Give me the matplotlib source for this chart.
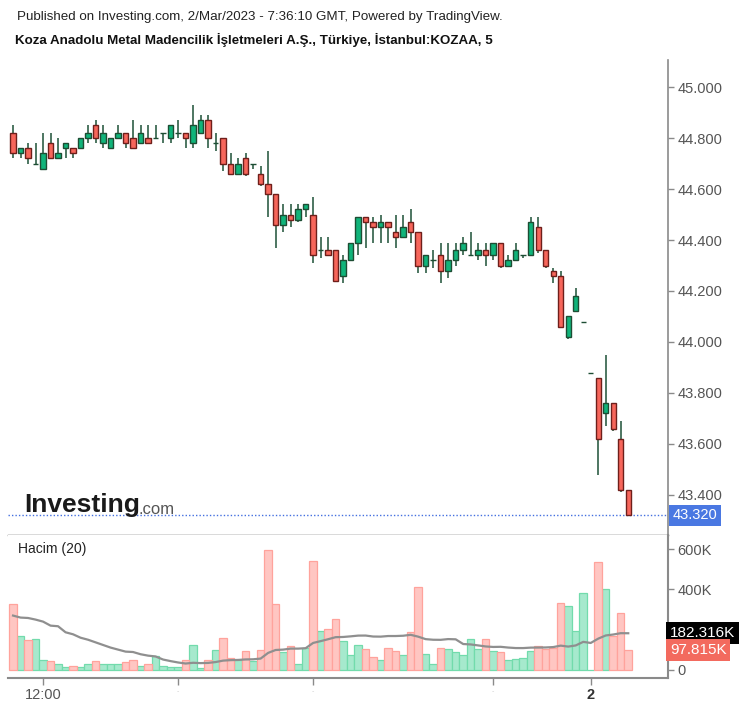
import numpy as np
import pandas as pd
import matplotlib
matplotlib.use("Agg")
import matplotlib.pyplot as plt
import matplotlib.transforms as mtransforms

plt.rcParams['font.family'] = ['Liberation Sans', 'DejaVu Sans']

# 5-minute candles, KOZAA (open, high, low, close)
opens = [44.82, 44.74, 44.76, 44.70, 44.68, 44.78, 44.72, 44.76, 44.76, 44.76,
         44.80, 44.85, 44.78, 44.76, 44.80, 44.82, 44.80, 44.78, 44.80, 44.80,
         44.82, 44.80, 44.82, 44.82, 44.78, 44.82, 44.87, 44.78, 44.80, 44.70,
         44.66, 44.72, 44.70, 44.66, 44.62, 44.58, 44.46, 44.50, 44.48, 44.52,
         44.50, 44.36, 44.36, 44.36, 44.26, 44.32, 44.39, 44.49, 44.47, 44.45,
         44.47, 44.43, 44.41, 44.47, 44.43, 44.30, 44.32, 44.34, 44.28, 44.32,
         44.36, 44.34, 44.34, 44.36, 44.34, 44.39, 44.30, 44.32, 44.34, 44.34,
         44.45, 44.36, 44.28, 44.26, 44.02, 44.12, 44.08, 43.88, 43.86, 43.72,
         43.76, 43.62, 43.42]
highs = [44.85, 44.76, 44.78, 44.78, 44.82, 44.82, 44.80, 44.78, 44.76, 44.80,
         44.85, 44.87, 44.85, 44.80, 44.85, 44.82, 44.87, 44.85, 44.85, 44.85,
         44.82, 44.85, 44.87, 44.82, 44.93, 44.89, 44.89, 44.82, 44.80, 44.74,
         44.72, 44.74, 44.70, 44.69, 44.75, 44.58, 44.54, 44.54, 44.54, 44.54,
         44.57, 44.41, 44.41, 44.36, 44.34, 44.39, 44.49, 44.49, 44.49, 44.50,
         44.47, 44.50, 44.50, 44.52, 44.43, 44.34, 44.36, 44.39, 44.39, 44.39,
         44.41, 44.43, 44.39, 44.39, 44.39, 44.39, 44.34, 44.39, 44.34, 44.49,
         44.49, 44.36, 44.29, 44.28, 44.10, 44.21, 44.08, 43.88, 43.86, 43.95,
         43.76, 43.69, 43.42]
lows = [44.72, 44.72, 44.70, 44.70, 44.68, 44.72, 44.72, 44.72, 44.72, 44.76,
        44.78, 44.78, 44.76, 44.76, 44.80, 44.76, 44.76, 44.78, 44.78, 44.80,
        44.78, 44.78, 44.80, 44.76, 44.76, 44.82, 44.76, 44.75, 44.67, 44.66,
        44.66, 44.65, 44.68, 44.61, 44.49, 44.37, 44.43, 44.45, 44.47, 44.49,
        44.31, 44.33, 44.34, 44.24, 44.23, 44.32, 44.34, 44.37, 44.39, 44.39,
        44.39, 44.37, 44.41, 44.39, 44.27, 44.27, 44.29, 44.23, 44.25, 44.30,
        44.34, 44.34, 44.32, 44.30, 44.32, 44.29, 44.30, 44.32, 44.33, 44.34,
        44.35, 44.29, 44.23, 44.06, 44.01, 44.12, 44.08, 43.88, 43.48, 43.67,
        43.65, 43.41, 43.32]
closes = [44.74, 44.76, 44.72, 44.70, 44.74, 44.72, 44.74, 44.78, 44.74, 44.80,
          44.82, 44.80, 44.82, 44.80, 44.82, 44.78, 44.76, 44.82, 44.78, 44.80,
          44.82, 44.85, 44.82, 44.80, 44.85, 44.87, 44.80, 44.78, 44.70, 44.66,
          44.70, 44.66, 44.70, 44.62, 44.58, 44.46, 44.50, 44.48, 44.52, 44.54,
          44.34, 44.36, 44.34, 44.24, 44.32, 44.39, 44.49, 44.47, 44.45, 44.47,
          44.45, 44.41, 44.45, 44.43, 44.30, 44.34, 44.32, 44.28, 44.32, 44.36,
          44.39, 44.34, 44.36, 44.34, 44.39, 44.30, 44.32, 44.36, 44.34, 44.47,
          44.36, 44.30, 44.26, 44.06, 44.10, 44.18, 44.08, 43.88, 43.62, 43.76,
          43.66, 43.42, 43.32]

# volume in thousands
volume = [327, 169, 149, 154, 50, 45, 30, 13, 18, 13,
          30, 45, 30, 30, 30, 38, 50, 20, 30, 69,
          20, 13, 13, 50, 124, 12, 50, 99, 160, 61,
          50, 94, 45, 99, 595, 327, 88, 119, 30, 111,
          541, 193, 203, 253, 144, 74, 124, 104, 63, 50,
          111, 94, 74, 190, 413, 79, 28, 111, 104, 88,
          74, 152, 104, 152, 94, 88, 50, 55, 61, 94,
          119, 104, 111, 334, 317, 193, 383, 2, 534, 402,
          169, 284, 97.815]
# first values of the 20-bar volume average (they use bars before the window)
vol_ma_head = [270, 260, 258, 250, 240, 220, 217, 187, 177, 160,
               150, 137, 124, 111, 101, 91, 89, 78, 71]

tick_pos = [4, 22, 40, 64, 77]
tick_labels = ['12:00', '-', '-', '-', '2']

last_price = 43.32
last_vol = 97.815
last_ma = 182.316

o = np.array(opens)
h = np.array(highs)
l = np.array(lows)
c = np.array(closes)
v = np.array(volume)
x = np.arange(len(o))
up = c >= o

ma = pd.Series(v).rolling(20).mean().to_numpy()
ma[:len(vol_ma_head)] = vol_ma_head

W, H = 747, 707
fig = plt.figure(figsize=(W / 100, H / 100), dpi=100)
ax = fig.add_axes([8 / W, (H - 535) / H, 660 / W, 475 / H])
axv = fig.add_axes([8 / W, (H - 678) / H, 660 / W, 143 / H], sharex=ax)

gray = '#8a8a8a'
lbl = '#555555'

# candles
ax.vlines(x, l, h, color='#3f6b55', lw=1.3, zorder=2)
body_bot = np.minimum(o, c)
body_h = np.abs(c - o)
ax.bar(x[up], body_h[up], bottom=body_bot[up], width=0.72,
       color='#10b47a', edgecolor='#1d4d33', lw=1.0, zorder=3)
ax.bar(x[~up], body_h[~up], bottom=body_bot[~up], width=0.72,
       color='#f7665b', edgecolor='#6e1f1b', lw=1.0, zorder=3)

ax.axhline(last_price, color='#4470e0', lw=1, ls=(0, (1, 1.5)), zorder=1)

ax.set_xlim(-0.67, 87.3)
ax.set_ylim(43.243, 45.106)
ax.set_yticks([43.4, 43.6, 43.8, 44.0, 44.2, 44.4, 44.6, 44.8, 45.0])
ax.set_yticklabels(['%.3f' % t for t in ax.get_yticks()])
ax.yaxis.tick_right()
ax.tick_params(axis='y', colors=gray, labelcolor=lbl, labelsize=10.5,
               length=4, width=1, pad=3)
ax.tick_params(axis='x', bottom=False, labelbottom=False)
for s in ['left', 'top']:
    ax.spines[s].set_visible(False)
ax.spines['right'].set_color(gray)
ax.spines['right'].set_linewidth(1.2)
ax.spines['bottom'].set_color('#444444')
ax.spines['bottom'].set_linewidth(1.0)

tr = mtransforms.blended_transform_factory(ax.transAxes, ax.transData)
ax.text(1.007, last_price, '43.320', transform=tr, ha='left', va='center',
        color='white', fontsize=10.5,
        bbox=dict(boxstyle='square,pad=0.25', fc='#4a78e2', ec='none'))

# volume
axv.bar(x[up], v[up], width=1.0, color='#a6e9cd', edgecolor='#72dbac', lw=0.9)
axv.bar(x[~up], v[~up], width=1.0, color='#ffc6c2', edgecolor='#ffa39c', lw=0.9)
axv.plot(x, ma, color='#8f8f8f', lw=1.6)
axv.set_ylim(-40, 670)
axv.set_yticks([0, 400, 600])
axv.set_yticklabels(['0', '400K', '600K'])
axv.yaxis.tick_right()
axv.tick_params(axis='y', colors=gray, labelcolor=lbl, labelsize=10.5,
                length=4, width=1, pad=3)
axv.set_xticks(tick_pos)
axv.set_xticklabels(tick_labels)
axv.tick_params(axis='x', colors=gray, labelcolor=lbl, labelsize=10.5,
                length=5, width=1, pad=2)
xl = axv.get_xticklabels()
for t in xl[1:4]:
    t.set_color('#d0d0d0')
    t.set_fontsize(5)
xl[4].set_fontweight('bold')
xl[4].set_color('#333333')
for s in ['left', 'top']:
    axv.spines[s].set_visible(False)
for s in ['right', 'bottom']:
    axv.spines[s].set_color(gray)
    axv.spines[s].set_linewidth(1.5)

trv = mtransforms.blended_transform_factory(axv.transAxes, axv.transData)
axv.text(1.003, last_ma, '182.316K', transform=trv, ha='left', va='center',
         color='white', fontsize=11,
         bbox=dict(boxstyle='square,pad=0.25', fc='black', ec='none'))
axv.text(1.003, last_vol, '97.815K', transform=trv, ha='left', va='center',
         color='white', fontsize=11,
         bbox=dict(boxstyle='square,pad=0.25', fc='#f36a5e', ec='none'))

fig.text(18 / W, 1 - 549 / H, 'Hacim (20)', fontsize=10, color='#222222',
         va='center', ha='left')

# header
fig.text(17 / W, 1 - 17 / H,
         'Published on Investing.com, 2/Mar/2023 - 7:36:10 GMT, Powered by TradingView.',
         fontsize=9.6, color='#222222', va='center', ha='left')
fig.text(15 / W, 1 - 40 / H,
         'Koza Anadolu Metal Madencilik İşletmeleri A.Ş., Türkiye, İstanbul:KOZAA, 5',
         fontsize=9.6, fontweight='bold', color='#111111', va='center', ha='left')

# logo
fig.text(24 / W, 1 - 505 / H, 'Investing', fontsize=19, fontweight='bold',
         color='#1a1a1a', va='center', ha='left')
fig.text(139 / W, 1 - 509 / H, '.com', fontsize=12, color='#555555',
         va='center', ha='left')

fig.savefig('out.png', dpi=100)
